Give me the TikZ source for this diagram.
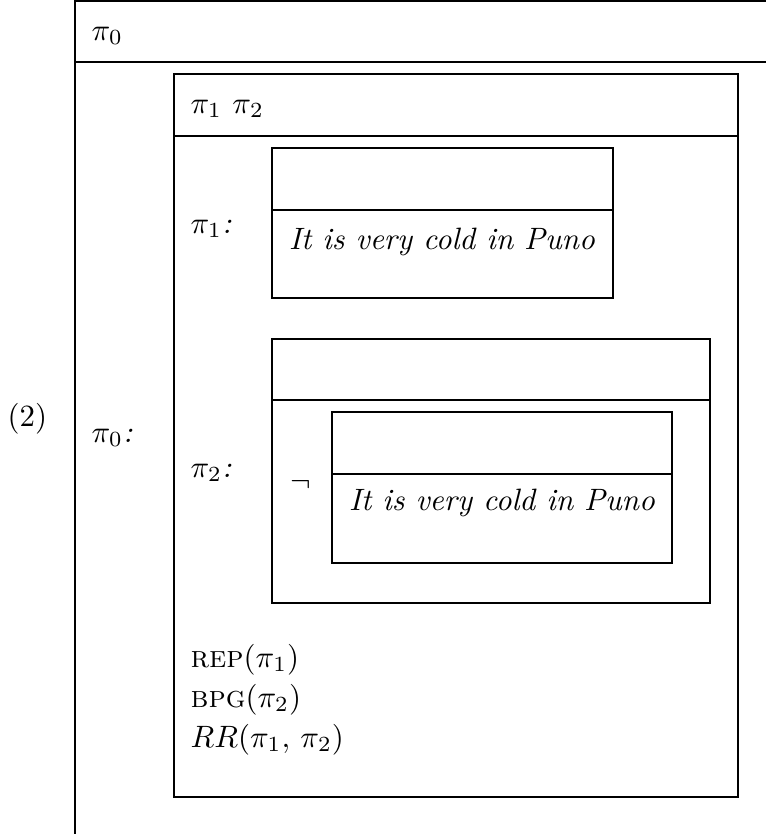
\documentclass[tikz,border=0pt]{standalone}
\usepackage{amsmath}
\usepackage{amssymb}
\usetikzlibrary{positioning}
\newcommand{\drsbox}[5]{% x1, y1, x2, y2, y of the divider
  \draw (#1,#2) rectangle (#3,#4);
  \draw (#1,#5) -- (#3,#5);}

\begin{document}
\begin{tikzpicture}[x=0.3236pt, y=-0.3236pt,
    lbl/.style={anchor=base west, inner sep=0pt},
    cond/.style={anchor=base, inner sep=0pt, font=\itshape}]
  \useasboundingbox (0,0) rectangle (766,834);
  % outer box, running off the page
  \draw (75,834) -- (75,1) -- (766,1);
  \draw (75,62) -- (766,62);
  \drsbox{174}{74}{738}{797}{136}
  \drsbox{272}{148}{613}{298}{210}
  \drsbox{272}{339}{710}{603}{400}
  \drsbox{332}{412}{672}{563}{474}

  \node [lbl] (num) at (7,426) {(2)};
  \node [lbl] (top0) at (91,40) {$\pi_0$};
  \node [lbl] (lab0) at (91,442) {$\pi_0$\textit{:}};
  \node [lbl] (top12) at (190,113) {$\pi_1\ \pi_2$};
  \node [lbl] (lab1) at (190,233) {$\pi_1$\textit{:}};
  \node [lbl] (lab2) at (190,477) {$\pi_2$\textit{:}};
  \node [cond] (cold1) at (442,249) {It is very cold in Puno};
  \node [lbl] (neg) at (290,491) {$\neg$};
  \node [cond] (cold2) at (502,510) {It is very cold in Puno};

  \node [lbl] (rep) at (190,667) {\textsc{rep}$(\pi_1)$};
  \node [lbl] (bpg) at (190,707) {\textsc{bpg}$(\pi_2)$};
  \node [lbl] (rr) at (190,747) {$RR(\pi_1,\,\pi_2)$};
\end{tikzpicture}
\end{document}
